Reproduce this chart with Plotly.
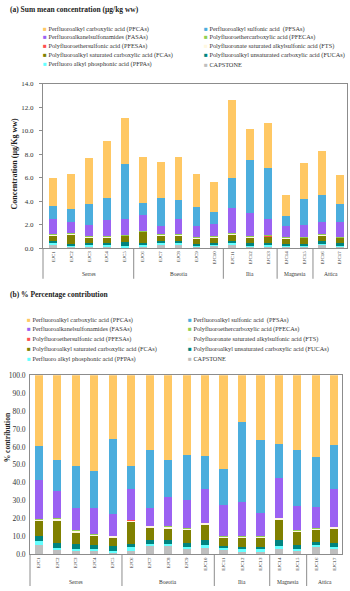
import plotly.graph_objects as go

# ---------------- data ----------------
sites = ["EJC1", "EJC2", "EJC3", "EJC4", "EJC5", "EJC6", "EJC7", "EJC8", "EJC9",
         "EJC10", "EJC11", "EJC12", "EJC13", "EJC14", "EJC15", "EJC16", "EJC17"]
group_names = ["Serres", "Boeotia", "Ilia", "Magnesia", "Attica"]
group_sizes = [5, 5, 3, 2, 2]

# total sum concentration (µg/kg ww)
totals = [6.0, 6.35, 7.65, 9.13, 11.07, 7.73, 7.3, 7.75, 6.28, 5.66,
          12.65, 10.16, 10.68, 4.51, 7.24, 8.28, 6.2]

# share of each class (%)
pfcas = [39.6, 47.3, 50.6, 53.4, 35.4, 50.5, 41.5, 47.3, 44.6, 45.1, 52.5, 26.2, 36.0, 38.5, 41.8, 45.5, 38.7]
pfsas = [19.1, 17.5, 23.3, 20.5, 42.2, 13.0, 32.4, 20.6, 24.8, 18.4, 20.2, 44.6, 41.1, 18.9, 31.2, 27.9, 24.8]
fasas = [21.5, 15.0, 12.5, 14.6, 12.0, 17.1, 10.0, 16.5, 16.0, 18.7, 17.2, 19.2, 12.8, 22.1, 13.5, 12.0, 21.1]
pfecas = [0.2, 0.2, 0.3, 0.3, 0.2, 0.3, 0.3, 0.2, 0.2, 0.3, 0.2, 0.2, 0.2, 0.2, 0.2, 0.2, 0.2]
pfesas = [0.05, 0.05, 0.05, 0.05, 0.05, 0.05, 0.05, 0.05, 0.05, 0.05, 0.05, 0.05, 0.05, 0.05, 0.05, 0.05, 0.05]
fts = [0.8, 0.9, 1.0, 0.9, 0.6, 0.8, 0.8, 0.8, 0.6, 0.8, 0.7, 0.6, 0.7, 0.7, 0.6, 0.6, 0.6]
fcas = [8.5, 12.8, 6.6, 5.0, 4.8, 12.6, 6.7, 6.3, 7.6, 8.6, 4.2, 5.0, 5.0, 11.3, 7.4, 6.6, 8.1]
fucas = [3.0, 2.5, 2.6, 2.2, 2.8, 1.7, 2.4, 2.4, 2.0, 2.6, 1.4, 1.4, 1.4, 3.3, 2.2, 1.9, 2.3]
pfpas = [1.8, 1.4, 1.1, 1.3, 1.0, 1.8, 1.3, 1.3, 1.2, 1.7, 1.1, 1.1, 1.1, 1.9, 0.9, 1.3, 1.4]
capstone = [5.5, 2.4, 2.0, 1.8, 1.0, 2.2, 4.6, 4.6, 3.0, 3.8, 2.5, 1.7, 1.7, 3.1, 2.2, 4.0, 2.8]

series_names = [
    "Perfluoroalkyl carboxylic acid (PFCAs)",
    "Perfluoroalkyl sulfonic acid  (PFSAs)",
    "Perfluoroalkanelsulfonamides (FASAs)",
    "Polyfluoroethercarboxylic acid (PFECAs)",
    "Polyfluoroethersulfonic acid (PFESAs)",
    "Polyfluoronate saturated alkylsulfonic acid (FTS)",
    "Polyfluoroalkyl saturated carboxylic acid (FCAs)",
    "Polyfluoroalkyl unsaturated carboxylic acid (FUCAs)",
    "Perfluoro alkyl phosphonic acid (PFPAs)",
    "CAPSTONE",
]
series_values = [pfcas, pfsas, fasas, pfecas, pfesas, fts, fcas, fucas, pfpas, capstone]
series_colors = ["#FFC864", "#4BADDD", "#9B62F2", "#92D050", "#FF5050",
                 "#FFF8E0", "#808000", "#00847F", "#66FFFF", "#BFBFBF"]

# ---------------- helpers ----------------
W, H = 350, 591
def fx(p):
    return p / W
def fy(p):
    return 1 - p / H

sums = [sum(v[i] for v in series_values) for i in range(len(sites))]
conc = [[v[i] / sums[i] * totals[i] for i in range(len(sites))] for v in series_values]
perc = [[v[i] / sums[i] * 100 for i in range(len(sites))] for v in series_values]

fig = go.Figure()
# stack from bottom (CAPSTONE) to top (PFCAs)
for k in reversed(range(len(series_names))):
    fig.add_trace(go.Bar(x=sites, y=conc[k], name=series_names[k],
                         marker=dict(color=series_colors[k], line=dict(width=0)),
                         xaxis="x", yaxis="y", showlegend=False))
for k in reversed(range(len(series_names))):
    fig.add_trace(go.Bar(x=sites, y=perc[k], name=series_names[k],
                         marker=dict(color=series_colors[k], line=dict(width=0)),
                         xaxis="x2", yaxis="y2", showlegend=False))

serif = "Liberation Serif, Times New Roman, serif"
axcol = "#8c8c8c"
tickfont_x = dict(family=serif, size=5, color="#333")

# panel geometry (pixels)
A_l, A_r, A_t, A_b = 43, 346.5, 81, 248
B_l, B_r, B_t, B_b = 30, 342.3, 377, 559

fig.update_layout(
    width=W, height=H, margin=dict(l=0, r=0, t=0, b=0),
    barmode="stack", bargap=0.56, showlegend=False,
    plot_bgcolor="white", paper_bgcolor="white",
    font=dict(family=serif, size=6.5, color="#222"),
    xaxis=dict(domain=[fx(A_l), fx(A_r)], anchor="y", range=[-0.56, 16.37],
               tickangle=-90, tickfont=tickfont_x, showline=True, mirror=True,
               linecolor=axcol, linewidth=1, ticks="", showgrid=False),
    yaxis=dict(domain=[fy(A_b), fy(A_t)], anchor="x", range=[0, 14], dtick=2,
               tickformat=".1f", tickfont=dict(family=serif, size=7, color="#333"),
               showline=True, mirror=True,
               linecolor=axcol, linewidth=1, ticks="outside", ticklen=3,
               tickcolor=axcol, showgrid=False, zeroline=False, ticklabelstandoff=4),
    xaxis2=dict(domain=[fx(B_l), fx(B_r)], anchor="y2", range=[-0.48, 16.43],
                tickangle=-90, tickfont=tickfont_x, showline=True, mirror=True,
                linecolor=axcol, linewidth=1, ticks="", showgrid=False),
    yaxis2=dict(domain=[fy(B_b), fy(B_t)], anchor="x2", range=[0, 100], dtick=10,
                tickformat=".1f", tickfont=dict(family=serif, size=7.5, color="#333"),
                showline=True, mirror=True,
                linecolor=axcol, linewidth=1, ticks="", showgrid=False,
                zeroline=False, ticklabelstandoff=2),
)

ann = []
shapes = []

# titles
ann.append(dict(text="<b>(a) Sum mean concentration (µg/kg ww)</b>", x=fx(8), y=fy(6),
                xref="paper", yref="paper", xanchor="left", yanchor="middle",
                showarrow=False, font=dict(family=serif, size=7.5, color="#222")))
ann.append(dict(text="<b>(b) % Percentage contribution</b>", x=fx(8), y=fy(295),
                xref="paper", yref="paper", xanchor="left", yanchor="middle",
                showarrow=False, font=dict(family=serif, size=7.5, color="#222")))

# y-axis titles
ann.append(dict(text="<b>Concentration (µg/Kg ww)</b>", x=fx(15), y=fy(162),
                xref="paper", yref="paper", xanchor="center", yanchor="middle",
                textangle=-90, showarrow=False,
                font=dict(family=serif, size=8, color="#222")))
ann.append(dict(text="<b>% contribution</b>", x=fx(7), y=fy(440),
                xref="paper", yref="paper", xanchor="center", yanchor="middle",
                textangle=-90, showarrow=False,
                font=dict(family=serif, size=7.5, color="#222")))

# legends (two columns, five rows)
def add_legend(col_x, row_y):
    for i, (nm, col) in enumerate(zip(series_names, series_colors)):
        r, c = divmod(i, 2)
        ann.append(dict(
            text=f"<span style='color:{col}'>■</span> {nm}",
            x=fx(col_x[c]), y=fy(row_y[r]), xref="paper", yref="paper",
            xanchor="left", yanchor="middle", showarrow=False,
            font=dict(family=serif, size=6.3, color="#333")))

add_legend([41, 202], [25, 34, 43, 52, 61])
add_legend([25, 186], [321, 330.5, 340.5, 350.5, 360])

# group labels and separators
def add_groups(xaxis, left_px, y_axis_px, y_end_px, y_label_px):
    start = 0
    shapes.append(dict(type="line", xref="paper", yref="paper",
                       x0=fx(left_px), x1=fx(left_px), y0=fy(y_axis_px), y1=fy(y_end_px),
                       line=dict(color=axcol, width=1)))
    for gname, gsize in zip(group_names, group_sizes):
        center = start + (gsize - 1) / 2
        ann.append(dict(text=gname, x=center, y=fy(y_label_px), xref=xaxis, yref="paper",
                        xanchor="center", yanchor="middle", showarrow=False,
                        font=dict(family=serif, size=5.5, color="#333")))
        start += gsize
        if start < len(sites):
            shapes.append(dict(type="line", xref=xaxis, yref="paper",
                               x0=start - 0.5, x1=start - 0.5,
                               y0=fy(y_axis_px), y1=fy(y_end_px),
                               line=dict(color=axcol, width=1)))

add_groups("x", A_l, A_b, 279, 274)
add_groups("x2", B_l, B_b, 591, 587)

fig.update_layout(annotations=ann, shapes=shapes)
fig.write_html("out.html")
